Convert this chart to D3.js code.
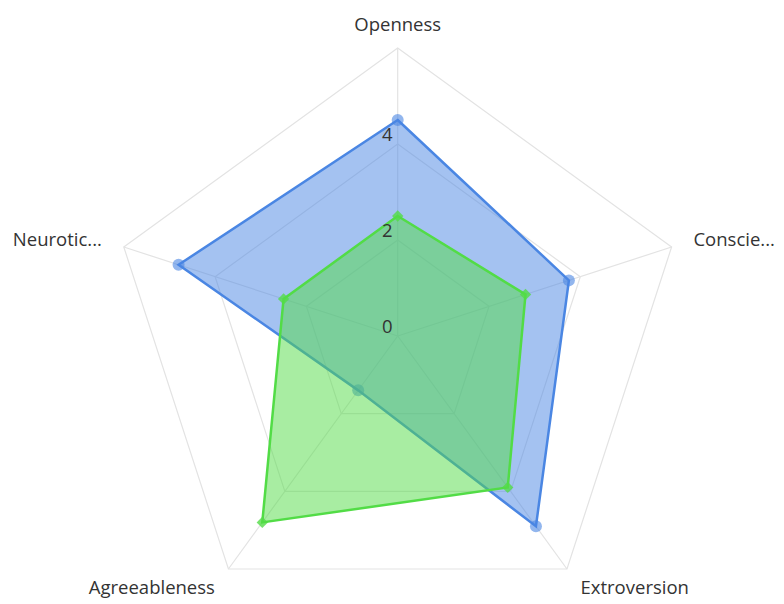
<!DOCTYPE html>
<html>
<head>
<meta charset="utf-8">
<script src="https://cdn.jsdelivr.net/npm/d3@7"></script>
<style>
  body { margin: 0; background: #fff; }
  svg { display: block; font-family: "Open Sans", "Noto Sans", sans-serif; }
</style>
</head>
<body>
<script>
// axis names as shown (long ones are cut by the chart)
const axes = ["Openness", "Conscie...", "Extroversion", "Agreeableness", "Neurotic..."];
const seriesA = [4.5, 3.75, 4.9, 1.4, 4.8];
const seriesB = [2.5, 2.8, 3.9, 4.8, 2.5];
const ticks = [0, 2, 4, 6];

const w = 784, h = 604;
const cx = 397.7, cy = 336, R = 288;

const svg = d3.select("body").append("svg")
  .attr("width", w)
  .attr("height", h);

const r = d3.scaleLinear().domain([0, 6]).range([0, R]);
const angle = d3.scalePoint().domain(d3.range(axes.length)).range([0, 2 * Math.PI * (axes.length - 1) / axes.length]);

function pt(i, v) {
  const a = angle(i);
  return [cx + r(v) * Math.sin(a), cy - r(v) * Math.cos(a)];
}

//grid rings
const grid = svg.append("g");
ticks.filter(t => t > 0).forEach(t => {
  grid.append("polygon")
    .attr("points", axes.map((d, i) => pt(i, t).join(",")).join(" "))
    .attr("fill", "none")
    .attr("stroke", "#e3e3e3")
    .attr("stroke-width", 1.2);
});
//spokes
axes.forEach((d, i) => {
  const p = pt(i, 6);
  grid.append("line")
    .attr("x1", cx).attr("y1", cy)
    .attr("x2", p[0]).attr("y2", p[1])
    .attr("stroke", "#e3e3e3")
    .attr("stroke-width", 1.2);
});

//axis labels
axes.forEach((d, i) => {
  const a = angle(i);
  const lx = cx + (R + 23) * Math.sin(a), ly = cy - (R + 23) * Math.cos(a);
  svg.append("text")
    .attr("x", lx)
    .attr("y", ly)
    .attr("dy", "0.35em")
    .attr("text-anchor", Math.abs(lx - cx) < 1 ? "middle" : (lx > cx ? "start" : "end"))
    .attr("fill", "#333")
    .style("font-size", "18.5px")
    .text(d);
});

const line = d3.line().curve(d3.curveLinearClosed);

function drawSeries(vals, color, marker) {
  const pts = vals.map((v, i) => pt(i, v));
  const g = svg.append("g");
  g.append("path")
    .attr("d", line(pts))
    .attr("fill", color)
    .attr("fill-opacity", 0.5)
    .attr("stroke", color)
    .attr("stroke-width", 2.5)
    .attr("stroke-linejoin", "miter");
  if (marker === "circle") {
    g.selectAll("circle").data(pts).enter().append("circle")
      .attr("cx", d => d[0]).attr("cy", d => d[1])
      .attr("r", 6)
      .attr("fill", color)
      .attr("fill-opacity", 0.6);
  } else {
    g.selectAll("rect").data(pts).enter().append("rect")
      .attr("x", -4).attr("y", -4)
      .attr("width", 8).attr("height", 8)
      .attr("transform", d => "translate(" + d[0] + "," + d[1] + ") rotate(45)")
      .attr("fill", color)
      .attr("fill-opacity", 0.8);
  }
}

drawSeries(seriesA, "#4a86e3", "circle");
drawSeries(seriesB, "#52dc46", "diamond");

//tick labels on top of everything
ticks.filter(t => t < 6).forEach(t => {
  svg.append("text")
    .attr("x", cx - 5)
    .attr("y", cy - r(t) - 9)
    .attr("dy", "0.35em")
    .attr("text-anchor", "end")
    .attr("fill", "#333")
    .style("font-size", "18.5px")
    .text(t);
});
</script>
</body>
</html>
